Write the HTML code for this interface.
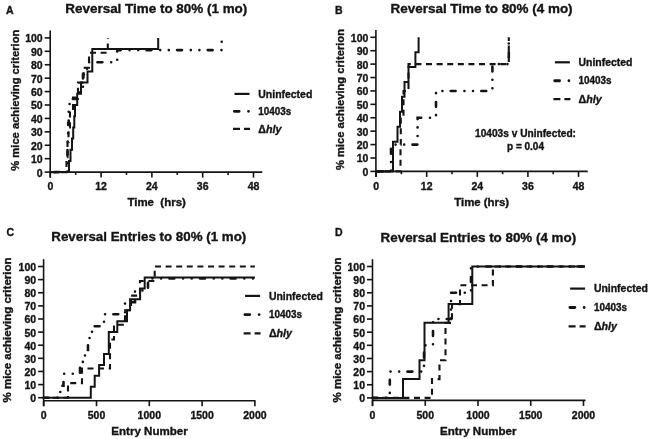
<!DOCTYPE html>
<html><head><meta charset="utf-8"><style>
html,body{margin:0;padding:0;background:#fff;width:650px;height:439px;overflow:hidden}
svg{display:block;filter:blur(0.3px)}
text{font-family:"Liberation Sans", sans-serif;font-weight:bold;fill:#141414;stroke:#141414;stroke-width:0.35px}
</style></head><body>
<svg width="650" height="439" viewBox="0 0 650 439" stroke="#141414">
<rect x="0" y="0" width="650" height="439" fill="#fff" stroke="none"/>
<g>
<text x="6.00" y="14.40" font-size="10.5" text-anchor="start" >A</text>
<text x="65.30" y="12.60" font-size="13.2" text-anchor="start" textLength="182" lengthAdjust="spacingAndGlyphs" >Reversal Time to 80% (1 mo)</text>
<line x1="50.20" y1="30.60" x2="50.20" y2="177.60" stroke-width="1.6"/>
<line x1="44.70" y1="172.10" x2="50.20" y2="172.10" stroke-width="1.6"/>
<text x="42.70" y="176.50" font-size="10.5" text-anchor="end" >0</text>
<line x1="44.70" y1="158.68" x2="50.20" y2="158.68" stroke-width="1.6"/>
<text x="42.70" y="163.08" font-size="10.5" text-anchor="end" >10</text>
<line x1="44.70" y1="145.26" x2="50.20" y2="145.26" stroke-width="1.6"/>
<text x="42.70" y="149.66" font-size="10.5" text-anchor="end" >20</text>
<line x1="44.70" y1="131.84" x2="50.20" y2="131.84" stroke-width="1.6"/>
<text x="42.70" y="136.24" font-size="10.5" text-anchor="end" >30</text>
<line x1="44.70" y1="118.42" x2="50.20" y2="118.42" stroke-width="1.6"/>
<text x="42.70" y="122.82" font-size="10.5" text-anchor="end" >40</text>
<line x1="44.70" y1="105.00" x2="50.20" y2="105.00" stroke-width="1.6"/>
<text x="42.70" y="109.40" font-size="10.5" text-anchor="end" >50</text>
<line x1="44.70" y1="91.58" x2="50.20" y2="91.58" stroke-width="1.6"/>
<text x="42.70" y="95.98" font-size="10.5" text-anchor="end" >60</text>
<line x1="44.70" y1="78.16" x2="50.20" y2="78.16" stroke-width="1.6"/>
<text x="42.70" y="82.56" font-size="10.5" text-anchor="end" >70</text>
<line x1="44.70" y1="64.74" x2="50.20" y2="64.74" stroke-width="1.6"/>
<text x="42.70" y="69.14" font-size="10.5" text-anchor="end" >80</text>
<line x1="44.70" y1="51.32" x2="50.20" y2="51.32" stroke-width="1.6"/>
<text x="42.70" y="55.72" font-size="10.5" text-anchor="end" >90</text>
<line x1="44.70" y1="37.90" x2="50.20" y2="37.90" stroke-width="1.6"/>
<text x="42.70" y="42.30" font-size="10.5" text-anchor="end" >100</text>
<line x1="50.20" y1="172.10" x2="262.30" y2="172.10" stroke-width="1.6"/>
<line x1="50.30" y1="172.10" x2="50.30" y2="177.60" stroke-width="1.6"/>
<text x="50.30" y="190.30" font-size="10.5" text-anchor="middle" >0</text>
<line x1="101.10" y1="172.10" x2="101.10" y2="177.60" stroke-width="1.6"/>
<text x="101.10" y="190.30" font-size="10.5" text-anchor="middle" >12</text>
<line x1="151.89" y1="172.10" x2="151.89" y2="177.60" stroke-width="1.6"/>
<text x="151.89" y="190.30" font-size="10.5" text-anchor="middle" >24</text>
<line x1="202.69" y1="172.10" x2="202.69" y2="177.60" stroke-width="1.6"/>
<text x="202.69" y="190.30" font-size="10.5" text-anchor="middle" >36</text>
<line x1="253.48" y1="172.10" x2="253.48" y2="177.60" stroke-width="1.6"/>
<text x="253.48" y="190.30" font-size="10.5" text-anchor="middle" >48</text>
<line x1="75.70" y1="172.10" x2="75.70" y2="174.90" stroke-width="1.6"/>
<line x1="126.49" y1="172.10" x2="126.49" y2="174.90" stroke-width="1.6"/>
<line x1="177.29" y1="172.10" x2="177.29" y2="174.90" stroke-width="1.6"/>
<line x1="228.09" y1="172.10" x2="228.09" y2="174.90" stroke-width="1.6"/>
<text x="127.40" y="206.00" font-size="11" text-anchor="start" textLength="58.5" lengthAdjust="spacingAndGlyphs" >Time&#160;&#160;(hrs)</text>
<text x="0" y="0" font-size="11" text-anchor="middle" textLength="141" lengthAdjust="spacingAndGlyphs" transform="translate(18.6,100.2) rotate(-90)">% mice achieving criterion</text>
<path d="M234.50 93.90H249.50" stroke-width="2.2" fill="none"/>
<path d="M234.30 111.35H239.20M248.50 111.35H248.51" stroke-width="2.8" stroke-linecap="round" fill="none"/>
<path d="M233.00 128.80H240.00M244.00 128.80H250.00" stroke-width="2.2" fill="none"/>
<text x="258.30" y="97.70" font-size="10.7" text-anchor="start" textLength="54" lengthAdjust="spacingAndGlyphs" >Uninfected</text>
<text x="258.30" y="114.95" font-size="10.2" text-anchor="start" textLength="33" lengthAdjust="spacingAndGlyphs" >10403s</text>
<text x="258.30" y="132.60" font-size="10.7">&#916;<tspan font-style="italic">hly</tspan></text>
<path d="M50.30 172.10H66.50V157.20H67.50V142.31H68.50V127.41H70.00V112.52H73.00V97.48H78.00V82.59H83.50V67.69H89.00V52.80H107.80V37.90" fill="none" stroke-width="2.1" stroke-dasharray="6 4.6" stroke-linejoin="miter"/>
<path d="M50.30 172.10H67.30V159.89H67.50V147.68H67.80V135.46H68.20V123.25H68.70V111.04H69.60V98.96H80.00V86.75H83.00V74.54H87.00V62.32H117.20V50.11H221.70V37.90" fill="none" stroke-width="2.6" stroke-linecap="round" stroke-dasharray="4.9 8.8 0.01 8.6 0.01 8.3" stroke-dashoffset="26.78" stroke-linejoin="miter"/>
<path d="M50.30 172.10H69.00V160.96H70.50V149.69H72.00V138.55H73.20V127.41H74.30V116.14H75.00V105.00H77.20V93.86H81.00V82.59H87.50V71.45H92.30V49.04H158.20V37.90" fill="none" stroke-width="2" stroke-linejoin="miter"/>
<text x="335.00" y="14.20" font-size="10.5" text-anchor="start" >B</text>
<text x="390.60" y="12.90" font-size="13.2" text-anchor="start" textLength="182" lengthAdjust="spacingAndGlyphs" >Reversal Time to 80% (4 mo)</text>
<line x1="375.90" y1="30.00" x2="375.90" y2="177.00" stroke-width="1.6"/>
<line x1="370.40" y1="171.40" x2="375.90" y2="171.40" stroke-width="1.6"/>
<text x="368.40" y="175.80" font-size="10.5" text-anchor="end" >0</text>
<line x1="370.40" y1="157.99" x2="375.90" y2="157.99" stroke-width="1.6"/>
<text x="368.40" y="162.39" font-size="10.5" text-anchor="end" >10</text>
<line x1="370.40" y1="144.58" x2="375.90" y2="144.58" stroke-width="1.6"/>
<text x="368.40" y="148.98" font-size="10.5" text-anchor="end" >20</text>
<line x1="370.40" y1="131.17" x2="375.90" y2="131.17" stroke-width="1.6"/>
<text x="368.40" y="135.57" font-size="10.5" text-anchor="end" >30</text>
<line x1="370.40" y1="117.76" x2="375.90" y2="117.76" stroke-width="1.6"/>
<text x="368.40" y="122.16" font-size="10.5" text-anchor="end" >40</text>
<line x1="370.40" y1="104.35" x2="375.90" y2="104.35" stroke-width="1.6"/>
<text x="368.40" y="108.75" font-size="10.5" text-anchor="end" >50</text>
<line x1="370.40" y1="90.94" x2="375.90" y2="90.94" stroke-width="1.6"/>
<text x="368.40" y="95.34" font-size="10.5" text-anchor="end" >60</text>
<line x1="370.40" y1="77.53" x2="375.90" y2="77.53" stroke-width="1.6"/>
<text x="368.40" y="81.93" font-size="10.5" text-anchor="end" >70</text>
<line x1="370.40" y1="64.12" x2="375.90" y2="64.12" stroke-width="1.6"/>
<text x="368.40" y="68.52" font-size="10.5" text-anchor="end" >80</text>
<line x1="370.40" y1="50.71" x2="375.90" y2="50.71" stroke-width="1.6"/>
<text x="368.40" y="55.11" font-size="10.5" text-anchor="end" >90</text>
<line x1="370.40" y1="37.30" x2="375.90" y2="37.30" stroke-width="1.6"/>
<text x="368.40" y="41.70" font-size="10.5" text-anchor="end" >100</text>
<line x1="375.90" y1="171.40" x2="587.70" y2="171.40" stroke-width="1.6"/>
<line x1="376.10" y1="171.40" x2="376.10" y2="176.90" stroke-width="1.6"/>
<text x="376.10" y="190.30" font-size="10.5" text-anchor="middle" >0</text>
<line x1="426.70" y1="171.40" x2="426.70" y2="176.90" stroke-width="1.6"/>
<text x="426.70" y="190.30" font-size="10.5" text-anchor="middle" >12</text>
<line x1="477.31" y1="171.40" x2="477.31" y2="176.90" stroke-width="1.6"/>
<text x="477.31" y="190.30" font-size="10.5" text-anchor="middle" >24</text>
<line x1="527.91" y1="171.40" x2="527.91" y2="176.90" stroke-width="1.6"/>
<text x="527.91" y="190.30" font-size="10.5" text-anchor="middle" >36</text>
<line x1="578.52" y1="171.40" x2="578.52" y2="176.90" stroke-width="1.6"/>
<text x="578.52" y="190.30" font-size="10.5" text-anchor="middle" >48</text>
<line x1="401.40" y1="171.40" x2="401.40" y2="174.20" stroke-width="1.6"/>
<line x1="452.01" y1="171.40" x2="452.01" y2="174.20" stroke-width="1.6"/>
<line x1="502.61" y1="171.40" x2="502.61" y2="174.20" stroke-width="1.6"/>
<line x1="553.21" y1="171.40" x2="553.21" y2="174.20" stroke-width="1.6"/>
<text x="454.20" y="206.00" font-size="11" text-anchor="start" textLength="55" lengthAdjust="spacingAndGlyphs" >Time (hrs)</text>
<text x="0" y="0" font-size="11" text-anchor="middle" textLength="141" lengthAdjust="spacingAndGlyphs" transform="translate(344.2,99.5) rotate(-90)">% mice achieving criterion</text>
<path d="M554.90 62.30H569.90" stroke-width="2.2" fill="none"/>
<path d="M554.70 80.75H559.60M568.90 80.75H568.91" stroke-width="2.8" stroke-linecap="round" fill="none"/>
<path d="M553.40 99.20H560.40M564.40 99.20H570.40" stroke-width="2.2" fill="none"/>
<text x="578.50" y="66.10" font-size="10.7" text-anchor="start" textLength="54" lengthAdjust="spacingAndGlyphs" >Uninfected</text>
<text x="578.50" y="84.35" font-size="10.2" text-anchor="start" textLength="33" lengthAdjust="spacingAndGlyphs" >10403s</text>
<text x="578.50" y="103.00" font-size="10.7">&#916;<tspan font-style="italic">hly</tspan></text>
<path d="M376.10 171.40H400.50V144.58H400.80V117.76H403.50V90.94H408.50V64.12H508.80V37.30" fill="none" stroke-width="2.1" stroke-dasharray="6 4.6" stroke-dashoffset="1.8" stroke-linejoin="miter"/>
<path d="M376.10 171.40H391.00V144.58H417.60V117.76H436.00V90.94H492.40V64.12H508.80V37.30" fill="none" stroke-width="2.6" stroke-linecap="round" stroke-dasharray="4.9 8.8 0.01 8.6 0.01 8.3" stroke-dashoffset="28.66" stroke-linejoin="miter"/>
<path d="M376.10 171.40H393.00V141.63H397.50V126.74H400.00V111.86H402.00V96.84H404.50V81.96H408.50V67.07H415.40V52.19H418.60V37.30" fill="none" stroke-width="2" stroke-linejoin="miter"/>
<text x="525.5" y="137" font-size="10" text-anchor="middle" textLength="101" lengthAdjust="spacingAndGlyphs">10403s v Uninfected:</text>
<text x="525.5" y="150" font-size="10" text-anchor="middle" textLength="37" lengthAdjust="spacingAndGlyphs">p = 0.04</text>
<text x="6.40" y="236.40" font-size="10.5" text-anchor="start" >C</text>
<text x="51.30" y="241.20" font-size="13.2" text-anchor="start" textLength="195" lengthAdjust="spacingAndGlyphs" >Reversal Entries to 80% (1 mo)</text>
<line x1="43.60" y1="259.20" x2="43.60" y2="406.20" stroke-width="1.6"/>
<line x1="38.10" y1="397.70" x2="43.60" y2="397.70" stroke-width="1.6"/>
<text x="36.10" y="402.10" font-size="10.5" text-anchor="end" >0</text>
<line x1="38.10" y1="384.58" x2="43.60" y2="384.58" stroke-width="1.6"/>
<text x="36.10" y="388.98" font-size="10.5" text-anchor="end" >10</text>
<line x1="38.10" y1="371.46" x2="43.60" y2="371.46" stroke-width="1.6"/>
<text x="36.10" y="375.86" font-size="10.5" text-anchor="end" >20</text>
<line x1="38.10" y1="358.34" x2="43.60" y2="358.34" stroke-width="1.6"/>
<text x="36.10" y="362.74" font-size="10.5" text-anchor="end" >30</text>
<line x1="38.10" y1="345.22" x2="43.60" y2="345.22" stroke-width="1.6"/>
<text x="36.10" y="349.62" font-size="10.5" text-anchor="end" >40</text>
<line x1="38.10" y1="332.10" x2="43.60" y2="332.10" stroke-width="1.6"/>
<text x="36.10" y="336.50" font-size="10.5" text-anchor="end" >50</text>
<line x1="38.10" y1="318.98" x2="43.60" y2="318.98" stroke-width="1.6"/>
<text x="36.10" y="323.38" font-size="10.5" text-anchor="end" >60</text>
<line x1="38.10" y1="305.86" x2="43.60" y2="305.86" stroke-width="1.6"/>
<text x="36.10" y="310.26" font-size="10.5" text-anchor="end" >70</text>
<line x1="38.10" y1="292.74" x2="43.60" y2="292.74" stroke-width="1.6"/>
<text x="36.10" y="297.14" font-size="10.5" text-anchor="end" >80</text>
<line x1="38.10" y1="279.62" x2="43.60" y2="279.62" stroke-width="1.6"/>
<text x="36.10" y="284.02" font-size="10.5" text-anchor="end" >90</text>
<line x1="38.10" y1="266.50" x2="43.60" y2="266.50" stroke-width="1.6"/>
<text x="36.10" y="270.90" font-size="10.5" text-anchor="end" >100</text>
<line x1="43.60" y1="400.70" x2="255.40" y2="400.70" stroke-width="1.6"/>
<line x1="43.70" y1="400.70" x2="43.70" y2="406.20" stroke-width="1.6"/>
<text x="43.70" y="418.80" font-size="10.5" text-anchor="middle" >0</text>
<line x1="96.50" y1="400.70" x2="96.50" y2="406.20" stroke-width="1.6"/>
<text x="96.50" y="418.80" font-size="10.5" text-anchor="middle" >500</text>
<line x1="149.30" y1="400.70" x2="149.30" y2="406.20" stroke-width="1.6"/>
<text x="149.30" y="418.80" font-size="10.5" text-anchor="middle" >1000</text>
<line x1="202.10" y1="400.70" x2="202.10" y2="406.20" stroke-width="1.6"/>
<text x="202.10" y="418.80" font-size="10.5" text-anchor="middle" >1500</text>
<line x1="254.90" y1="400.70" x2="254.90" y2="406.20" stroke-width="1.6"/>
<text x="254.90" y="418.80" font-size="10.5" text-anchor="middle" >2000</text>
<text x="111.30" y="435.00" font-size="11" text-anchor="start" textLength="76.5" lengthAdjust="spacingAndGlyphs" >Entry Number</text>
<text x="0" y="0" font-size="11" text-anchor="middle" textLength="145" lengthAdjust="spacingAndGlyphs" transform="translate(11.2,330) rotate(-90)">% mice achieving criterion</text>
<path d="M245.10 295.90H260.10" stroke-width="2.2" fill="none"/>
<path d="M244.90 314.60H249.80M259.10 314.60H259.11" stroke-width="2.8" stroke-linecap="round" fill="none"/>
<path d="M243.60 333.30H250.60M254.60 333.30H260.60" stroke-width="2.2" fill="none"/>
<text x="268.90" y="299.70" font-size="10.7" text-anchor="start" textLength="54" lengthAdjust="spacingAndGlyphs" >Uninfected</text>
<text x="268.90" y="318.20" font-size="10.2" text-anchor="start" textLength="33" lengthAdjust="spacingAndGlyphs" >10403s</text>
<text x="268.90" y="337.10" font-size="10.7">&#916;<tspan font-style="italic">hly</tspan></text>
<path d="M43.70 397.70H68.00V383.14H82.00V368.57H110.00V339.45H114.00V324.75H125.00V310.19H131.00V295.63H140.00V281.06H154.70V266.50H254.90" fill="none" stroke-width="2.1" stroke-dasharray="6 4.6" stroke-dashoffset="1.3" stroke-linejoin="miter"/>
<path d="M43.70 397.70H60.30V385.76H63.50V373.82H80.00V361.88H85.00V349.94H88.00V338.00H92.00V326.20H104.00V314.26H125.00V302.32H135.00V290.38H148.00V278.44H254.90" fill="none" stroke-width="2.6" stroke-linecap="round" stroke-dasharray="4.9 8.8 0.01 8.6 0.01 8.3" stroke-linejoin="miter"/>
<path d="M43.70 397.70H90.80V386.81H94.70V375.79H99.10V364.90H104.00V354.01H108.80V332.10H117.30V321.21H127.00V310.19H130.10V299.30H140.10V288.41H144.70V277.39H254.90" fill="none" stroke-width="2" stroke-linejoin="miter"/>
<text x="335.00" y="236.40" font-size="10.5" text-anchor="start" >D</text>
<text x="380.60" y="241.50" font-size="13.2" text-anchor="start" textLength="195.5" lengthAdjust="spacingAndGlyphs" >Reversal Entries to 80% (4 mo)</text>
<line x1="372.50" y1="259.20" x2="372.50" y2="406.20" stroke-width="1.6"/>
<line x1="367.00" y1="397.90" x2="372.50" y2="397.90" stroke-width="1.6"/>
<text x="365.00" y="402.30" font-size="10.5" text-anchor="end" >0</text>
<line x1="367.00" y1="384.76" x2="372.50" y2="384.76" stroke-width="1.6"/>
<text x="365.00" y="389.16" font-size="10.5" text-anchor="end" >10</text>
<line x1="367.00" y1="371.62" x2="372.50" y2="371.62" stroke-width="1.6"/>
<text x="365.00" y="376.02" font-size="10.5" text-anchor="end" >20</text>
<line x1="367.00" y1="358.48" x2="372.50" y2="358.48" stroke-width="1.6"/>
<text x="365.00" y="362.88" font-size="10.5" text-anchor="end" >30</text>
<line x1="367.00" y1="345.34" x2="372.50" y2="345.34" stroke-width="1.6"/>
<text x="365.00" y="349.74" font-size="10.5" text-anchor="end" >40</text>
<line x1="367.00" y1="332.20" x2="372.50" y2="332.20" stroke-width="1.6"/>
<text x="365.00" y="336.60" font-size="10.5" text-anchor="end" >50</text>
<line x1="367.00" y1="319.06" x2="372.50" y2="319.06" stroke-width="1.6"/>
<text x="365.00" y="323.46" font-size="10.5" text-anchor="end" >60</text>
<line x1="367.00" y1="305.92" x2="372.50" y2="305.92" stroke-width="1.6"/>
<text x="365.00" y="310.32" font-size="10.5" text-anchor="end" >70</text>
<line x1="367.00" y1="292.78" x2="372.50" y2="292.78" stroke-width="1.6"/>
<text x="365.00" y="297.18" font-size="10.5" text-anchor="end" >80</text>
<line x1="367.00" y1="279.64" x2="372.50" y2="279.64" stroke-width="1.6"/>
<text x="365.00" y="284.04" font-size="10.5" text-anchor="end" >90</text>
<line x1="367.00" y1="266.50" x2="372.50" y2="266.50" stroke-width="1.6"/>
<text x="365.00" y="270.90" font-size="10.5" text-anchor="end" >100</text>
<line x1="372.50" y1="400.40" x2="585.50" y2="400.40" stroke-width="1.6"/>
<line x1="372.50" y1="400.40" x2="372.50" y2="405.90" stroke-width="1.6"/>
<text x="372.50" y="418.80" font-size="10.5" text-anchor="middle" >0</text>
<line x1="425.25" y1="400.40" x2="425.25" y2="405.90" stroke-width="1.6"/>
<text x="425.25" y="418.80" font-size="10.5" text-anchor="middle" >500</text>
<line x1="478.00" y1="400.40" x2="478.00" y2="405.90" stroke-width="1.6"/>
<text x="478.00" y="418.80" font-size="10.5" text-anchor="middle" >1000</text>
<line x1="530.75" y1="400.40" x2="530.75" y2="405.90" stroke-width="1.6"/>
<text x="530.75" y="418.80" font-size="10.5" text-anchor="middle" >1500</text>
<line x1="583.50" y1="400.40" x2="583.50" y2="405.90" stroke-width="1.6"/>
<text x="583.50" y="418.80" font-size="10.5" text-anchor="middle" >2000</text>
<text x="440.00" y="435.00" font-size="11" text-anchor="start" textLength="76.5" lengthAdjust="spacingAndGlyphs" >Entry Number</text>
<text x="0" y="0" font-size="11" text-anchor="middle" textLength="145" lengthAdjust="spacingAndGlyphs" transform="translate(341.2,330) rotate(-90)">% mice achieving criterion</text>
<path d="M570.10 288.60H585.10" stroke-width="2.2" fill="none"/>
<path d="M569.90 307.50H574.80M584.10 307.50H584.11" stroke-width="2.8" stroke-linecap="round" fill="none"/>
<path d="M568.60 326.40H575.60M579.60 326.40H585.60" stroke-width="2.2" fill="none"/>
<text x="593.90" y="292.40" font-size="10.7" text-anchor="start" textLength="54" lengthAdjust="spacingAndGlyphs" >Uninfected</text>
<text x="593.90" y="311.10" font-size="10.2" text-anchor="start" textLength="33" lengthAdjust="spacingAndGlyphs" >10403s</text>
<text x="593.90" y="330.20" font-size="10.7">&#916;<tspan font-style="italic">hly</tspan></text>
<path d="M372.50 397.90H432.00V379.11H439.50V360.32H445.50V322.87H452.00V304.08H460.00V285.29H492.90V266.50H585.00" fill="none" stroke-width="2.1" stroke-dasharray="6 4.6" stroke-dashoffset="0.9" stroke-linejoin="miter"/>
<path d="M372.50 397.90H389.80V371.62H424.00V345.34H433.00V319.06H451.00V292.78H471.00V266.50H585.00" fill="none" stroke-width="2.6" stroke-linecap="round" stroke-dasharray="4.9 8.8 0.01 8.6 0.01 8.3" stroke-linejoin="miter"/>
<path d="M372.50 397.90H403.00V379.11H419.50V360.32H424.50V322.87H448.60V304.08H472.30V266.50H585.00" fill="none" stroke-width="2" stroke-linejoin="miter"/>
</g></svg></body></html>
